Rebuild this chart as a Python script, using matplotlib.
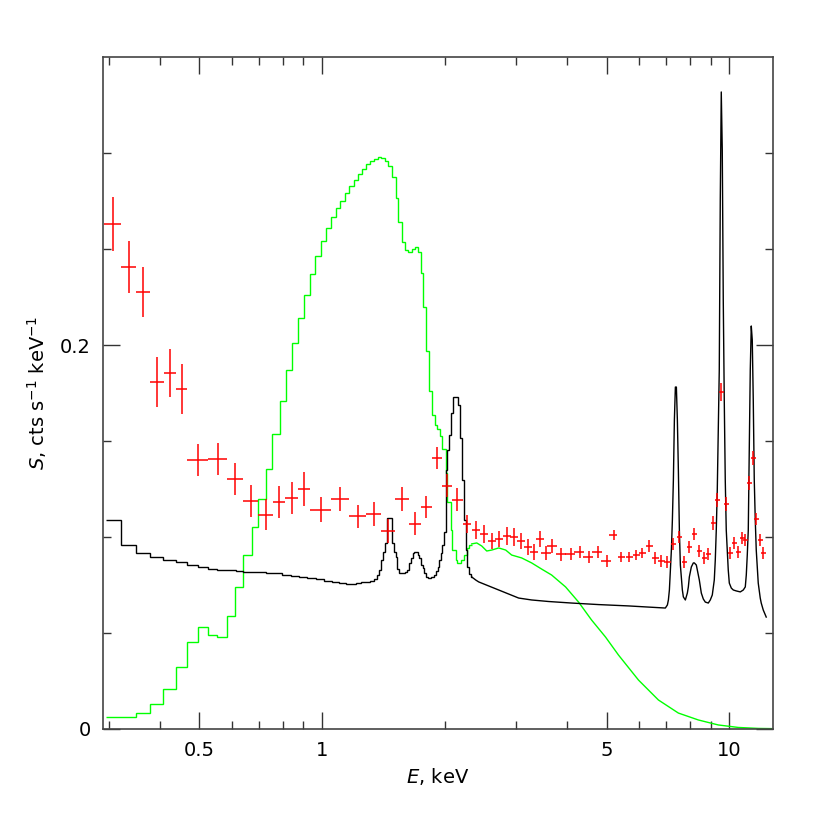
import numpy as np
import matplotlib
matplotlib.use("Agg")
import matplotlib.pyplot as plt
from matplotlib.ticker import FixedLocator, NullFormatter

plt.rcParams['font.family'] = ['DejaVu Sans']
plt.rcParams['mathtext.fontset'] = 'dejavusans'

# observed spectrum (red crosses): bin centre, half width, flux, 1-sigma error
red_e = [0.307, 0.3358, 0.3645, 0.3945, 0.4244, 0.4527, 0.4962, 0.5553, 0.6127, 0.6685,
         0.7277, 0.785, 0.8424, 0.904, 0.9933, 1.1085, 1.2235, 1.3385, 1.4525, 1.572,
         1.691, 1.804, 1.914, 2.0255, 2.1495, 2.267,
         2.385, 2.495, 2.610, 2.716, 2.841, 2.955, 3.075, 3.198, 3.308, 3.422,
         3.540, 3.662, 3.853, 4.076, 4.289, 4.512, 4.748, 4.995,
         5.197, 5.436, 5.687, 5.916, 6.120, 6.367, 6.587, 6.813, 7.047,
         7.290, 7.541, 7.757, 7.980, 8.208, 8.444, 8.685, 8.883, 9.137, 9.346,
         9.559, 9.832, 10.06, 10.29, 10.52, 10.76, 10.94, 11.19, 11.45, 11.65,
         11.91, 12.12]
red_de = [0.0147, 0.0142, 0.0145, 0.0156, 0.0143, 0.0141, 0.0294, 0.0298, 0.0276, 0.0283,
          0.0309, 0.0265, 0.0309, 0.0307, 0.0587, 0.0565, 0.0585, 0.0565, 0.0575, 0.062,
          0.057, 0.056, 0.054, 0.0575, 0.0665, 0.051,
          0.054, 0.056, 0.059, 0.061, 0.064, 0.067, 0.069, 0.072, 0.075, 0.077,
          0.100, 0.103, 0.109, 0.115, 0.121, 0.127, 0.134, 0.141,
          0.117, 0.107, 0.112, 0.117, 0.121, 0.126, 0.130, 0.135, 0.139,
          0.103, 0.106, 0.109, 0.113, 0.116, 0.119, 0.123, 0.125, 0.129, 0.132,
          0.135, 0.139, 0.142, 0.145, 0.148, 0.152, 0.154, 0.158, 0.162, 0.164,
          0.168, 0.171]
red_s = [0.2629, 0.2406, 0.2276, 0.1807, 0.1854, 0.1771, 0.1401, 0.1406, 0.1302, 0.1188,
         0.1115, 0.1182, 0.1203, 0.1250, 0.1141, 0.1198, 0.1109, 0.1120, 0.1031, 0.1198,
         0.1068, 0.1156, 0.1411, 0.1266, 0.1193, 0.1068,
         0.1036, 0.1016, 0.0979, 0.0990, 0.1005, 0.1000, 0.0979, 0.0948, 0.0922, 0.0990,
         0.0917, 0.0953, 0.0911, 0.0911, 0.0922, 0.0896, 0.0922, 0.0875,
         0.1010, 0.0896, 0.0896, 0.0906, 0.0917, 0.0953, 0.0891, 0.0875, 0.0870,
         0.0964, 0.1000, 0.0870, 0.0948, 0.1016, 0.0927, 0.0891, 0.0911, 0.1073, 0.1193,
         0.1755, 0.1172, 0.0917, 0.0969, 0.0922, 0.0995, 0.0984, 0.1281, 0.1411, 0.1094,
         0.0984, 0.0917]
red_err = [0.0141, 0.0135, 0.0130, 0.0128, 0.0125, 0.0128, 0.0081, 0.0083, 0.0081, 0.0083,
           0.0081, 0.0083, 0.0083, 0.0091, 0.0065, 0.0063, 0.0060, 0.0063, 0.0063, 0.0063,
           0.0060, 0.0057, 0.0057, 0.0060, 0.0060, 0.0049,
           0.0048, 0.0045, 0.0040, 0.0042, 0.0045, 0.0045, 0.0042, 0.0042, 0.0040, 0.0040,
           0.0035, 0.0034, 0.0034, 0.0033, 0.0033, 0.0033, 0.0033, 0.0030,
           0.0028, 0.0028, 0.0028, 0.0028, 0.0028, 0.0030, 0.0030, 0.0030, 0.0030,
           0.0030, 0.0032, 0.0030, 0.0030, 0.0032, 0.0030, 0.0030, 0.0030, 0.0034, 0.0035,
           0.0045, 0.0035, 0.0030, 0.0030, 0.0030, 0.0030, 0.0030, 0.0035, 0.0038, 0.0033,
           0.0030, 0.0030]

# black model, binned part (bin edges / values) below 2.33 keV
black_edges = [0.2955, 0.3216, 0.3500, 0.3789, 0.4078, 0.4386, 0.4668, 0.4967, 0.5255, 0.5529,
               0.5851, 0.6156, 0.6402, 0.6699, 0.7008, 0.7290, 0.7627, 0.7980, 0.8395, 0.8782,
               0.9189, 0.9667, 1.0114, 1.0581, 1.1007, 1.1451, 1.1778, 1.2115, 1.2463, 1.2818,
               1.3111, 1.3412, 1.3641, 1.3795, 1.3952, 1.4110, 1.4270, 1.4432, 1.4678, 1.4845,
               1.5013, 1.5184, 1.5268, 1.5441, 1.5706, 1.5973, 1.6155, 1.6338, 1.6524, 1.6711,
               1.6807, 1.6998, 1.7190, 1.7286, 1.7482, 1.7682, 1.7783, 1.7985, 1.8189, 1.8500,
               1.8815, 1.9029, 1.9245, 1.9356, 1.9575, 1.9684, 1.9907, 2.0133, 2.0250, 2.0480,
               2.0712, 2.0947, 2.1302, 2.1544, 2.1788, 2.2035, 2.2284, 2.2537, 2.2666, 2.2923,
               2.3183, 2.3313]
black_vals = [0.1089, 0.0960, 0.0918, 0.0897, 0.0882, 0.0868, 0.0856, 0.0842, 0.0835, 0.0830,
              0.0827, 0.0823, 0.0819, 0.0818, 0.0816, 0.0814, 0.0810, 0.0804, 0.0797, 0.0790,
              0.0784, 0.0780, 0.0773, 0.0766, 0.0760, 0.0755, 0.0755, 0.0759, 0.0763, 0.0767,
              0.0773, 0.0781, 0.0802, 0.0828, 0.0880, 0.0922, 0.0969, 0.1099, 0.1099, 0.0969,
              0.0922, 0.0896, 0.0833, 0.0813, 0.0813, 0.0819, 0.0828, 0.0865, 0.0891, 0.0917,
              0.0922, 0.0922, 0.0906, 0.0891, 0.0854, 0.0839, 0.0813, 0.0793, 0.0788, 0.0792,
              0.0802, 0.0823, 0.0844, 0.0880, 0.0917, 0.0958, 0.1026, 0.1349, 0.1453, 0.1531,
              0.1646, 0.1729, 0.1729, 0.1688, 0.1516, 0.1297, 0.1089, 0.0932, 0.0844, 0.0807,
              0.0792]

# black model, finely sampled part above 2.33 keV
black_e = [2.3313, 2.3846, 2.4253, 2.5661, 2.7153, 2.8728, 3.0400, 3.2711, 3.6006, 4.1011,
           4.7753, 5.6558, 6.3317, 6.9663, 7.0469, 7.0867, 7.1268, 7.1671, 7.2076, 7.2484,
           7.2894, 7.3306, 7.3721, 7.4138, 7.4557, 7.4979, 7.5403, 7.5829, 7.6689, 7.7122,
           7.7997, 7.8882, 7.9328, 7.9776, 8.0681, 8.1597, 8.2058, 8.2989, 8.3458, 8.4405,
           8.5363, 8.6331, 8.7311, 8.8799, 8.9806, 9.0826, 9.1856, 9.2376, 9.2899, 9.3424,
           9.3953, 9.4484, 9.5019, 9.5556, 9.6097, 9.6641, 9.7187, 9.7737, 9.8290, 9.9406,
           10.000, 10.113, 10.228, 10.404, 10.641, 10.822, 10.945, 11.007, 11.069, 11.132,
           11.194, 11.258, 11.322, 11.386, 11.450, 11.515, 11.580, 11.645, 11.777, 11.911,
           11.978, 12.114, 12.320]
black_s = [0.0792, 0.0776, 0.0766, 0.0745, 0.0724, 0.0703, 0.0682, 0.0672, 0.0664, 0.0656,
           0.0648, 0.0641, 0.0635, 0.0630, 0.0646, 0.0672, 0.0724, 0.0828, 0.0932, 0.1089,
           0.1297, 0.1609, 0.1781, 0.1781, 0.1609, 0.1349, 0.1036, 0.0854, 0.0724, 0.0688,
           0.0672, 0.0708, 0.0740, 0.0792, 0.0844, 0.0865, 0.0865, 0.0854, 0.0828, 0.0776,
           0.0708, 0.0677, 0.0661, 0.0656, 0.0672, 0.0698, 0.0776, 0.0880, 0.1036, 0.1245,
           0.1557, 0.1870, 0.2755, 0.3318, 0.3016, 0.2234, 0.1714, 0.1297, 0.1036, 0.0828,
           0.0760, 0.0734, 0.0724, 0.0719, 0.0714, 0.0724, 0.0740, 0.0802, 0.0906, 0.1036,
           0.1453, 0.1870, 0.2099, 0.2026, 0.1714, 0.1297, 0.1089, 0.0932, 0.0760, 0.0682,
           0.0656, 0.0620, 0.0583]

# green model, binned part
green_edges = [0.2955, 0.3500, 0.3789, 0.4078, 0.4386, 0.4675, 0.4948, 0.5255, 0.5539, 0.5840,
               0.6110, 0.6413, 0.6725, 0.6979, 0.7278, 0.7543, 0.7891, 0.8162, 0.8443, 0.8733,
               0.9034, 0.9346, 0.9612, 0.9944, 1.0228, 1.052, 1.0822, 1.1069, 1.1385, 1.165,
               1.1979, 1.2253, 1.2531, 1.2818, 1.3111, 1.3412, 1.3718, 1.3952, 1.4270, 1.4515,
               1.4845, 1.5184, 1.5354, 1.5706, 1.5973, 1.6245, 1.6616, 1.6902, 1.7190, 1.7482,
               1.7682, 1.7985, 1.8290, 1.8600, 1.8923, 1.9137, 1.9464, 1.9684, 2.0133, 2.0250,
               2.0712, 2.0830, 2.1302, 2.1423, 2.1911, 2.2284, 2.2666, 2.2923, 2.3313]
green_vals = [0.0061, 0.0085, 0.0130, 0.0207, 0.0324, 0.0455, 0.0533, 0.0490, 0.0478, 0.0589,
              0.0741, 0.0906, 0.1050, 0.1196, 0.1355, 0.1536, 0.1708, 0.1870, 0.2010, 0.2141,
              0.2260, 0.2370, 0.2464, 0.2542, 0.2609, 0.2667, 0.2714, 0.2750, 0.2792, 0.2828,
              0.2859, 0.2891, 0.2917, 0.2943, 0.2958, 0.2969, 0.2979, 0.2974, 0.2958, 0.2932,
              0.2875, 0.2766, 0.2641, 0.2536, 0.2495, 0.2484, 0.2500, 0.2510, 0.2484, 0.2375,
              0.2198, 0.1969, 0.1760, 0.1635, 0.1583, 0.1563, 0.1526, 0.1458, 0.1333, 0.1182,
              0.1036, 0.0932, 0.0880, 0.0865, 0.0880, 0.0906, 0.0943, 0.0958]

# green model, smooth tail
green_e = [2.3313, 2.3988, 2.4675, 2.5379, 2.6103, 2.7153, 2.8249, 2.9221, 3.0914, 3.2711,
           3.4611, 3.6623, 3.9628, 4.2654, 4.5889, 4.9668, 5.3457, 5.9840, 6.6988, 7.4979,
           8.3946, 9.3953, 10.522, 11.777, 12.7]
green_s = [0.0964, 0.0969, 0.0953, 0.0927, 0.0932, 0.0943, 0.0932, 0.0906, 0.0891, 0.0865,
           0.0833, 0.0802, 0.0740, 0.0661, 0.0568, 0.0479, 0.0385, 0.0255, 0.0151, 0.0083,
           0.0047, 0.0021, 0.0008, 0.0003, 0.0002]

fig = plt.figure(figsize=(8.3, 8.3), dpi=100)
ax = fig.add_axes([0.1241, 0.1217, 0.8072, 0.8096])

ax.stairs(green_vals, green_edges, baseline=None, color='#00ff00', lw=1.0)
ax.plot(green_e, green_s, color='#00ff00', lw=1.0)
ax.stairs(black_vals, black_edges, baseline=None, color='k', lw=1.0)
ax.plot(black_e, black_s, color='k', lw=1.0)
ax.errorbar(red_e, red_s, xerr=red_de, yerr=red_err, fmt='none',
            ecolor='#ff0000', elinewidth=1.1, capsize=0)

ax.set_xscale('log')
ax.set_xlim(0.29, 12.8)
ax.set_ylim(0, 0.35)

ax.xaxis.set_major_locator(FixedLocator([0.5, 1, 5, 10]))
ax.xaxis.set_minor_locator(FixedLocator([0.3, 0.4, 0.6, 0.7, 0.8, 0.9, 2, 3, 4, 6, 7, 8, 9]))
ax.set_xticklabels(['0.5', '1', '5', '10'])
ax.xaxis.set_minor_formatter(NullFormatter())
ax.yaxis.set_major_locator(FixedLocator([0, 0.2]))
ax.yaxis.set_minor_locator(FixedLocator([0.05, 0.1, 0.15, 0.25, 0.3]))
ax.set_yticklabels(['0', '0.2'])

ax.tick_params(which='both', direction='in', top=True, right=True, color='#333333',
               labelsize=14, pad=9)
ax.tick_params(which='major', length=12, width=1.0)
ax.tick_params(which='minor', length=6, width=1.0)
for sp in ax.spines.values():
    sp.set_linewidth(1.2)
    sp.set_color('#444444')

ax.set_xlabel('$E$, keV', fontsize=14, labelpad=4)
ax.set_ylabel('$S$, cts s$^{-1}$ keV$^{-1}$', fontsize=14, labelpad=8)

fig.savefig('out.png', dpi=100)
